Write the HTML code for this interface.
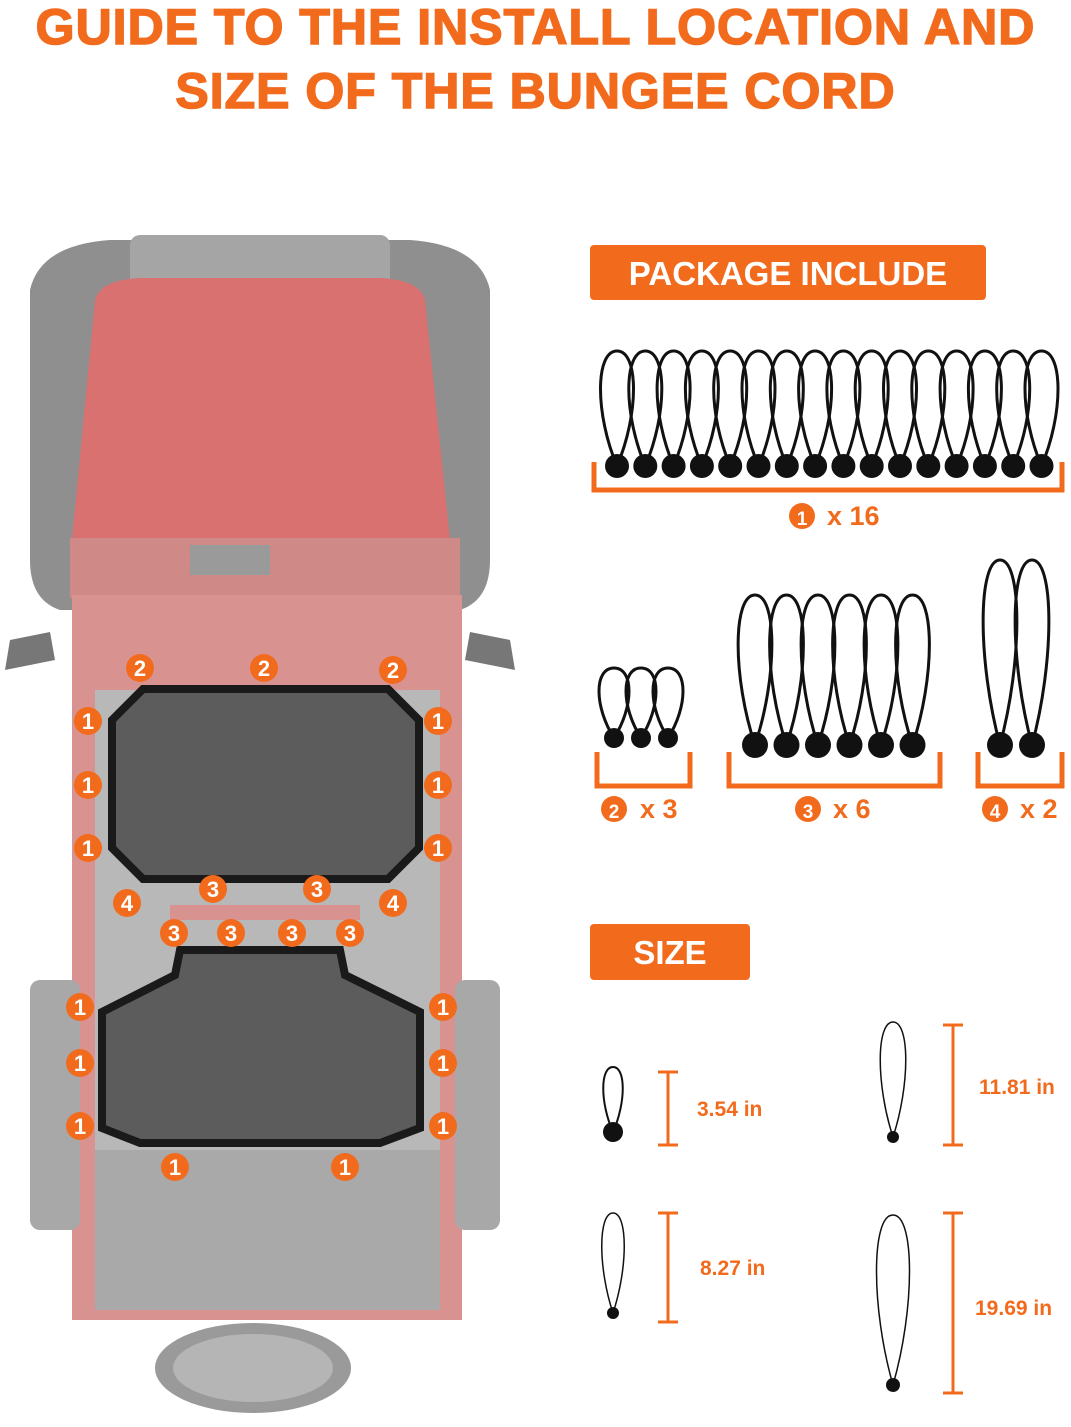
<!DOCTYPE html>
<html><head><meta charset="utf-8"><style>
html,body{margin:0;padding:0;background:#fff}
body{width:1071px;height:1427px;position:relative;overflow:hidden;font-family:"Liberation Sans",sans-serif}
.t{position:absolute;left:0;width:1071px;text-align:center;color:#f26b1d;font-weight:900;font-size:50px;letter-spacing:1px;-webkit-text-stroke:1.5px #f26b1d}
</style></head><body>
<div class="t" style="top:-2px">GUIDE TO THE INSTALL LOCATION AND</div>
<div class="t" style="top:62px">SIZE OF THE BUNGEE CORD</div>
<svg id="s" width="1071" height="1427" style="position:absolute;left:0;top:0" font-family="Liberation Sans, sans-serif">
<ellipse cx="253" cy="1368" rx="98" ry="45" fill="#9a9a9a"/>
<ellipse cx="253" cy="1368" rx="80" ry="34" fill="#b5b5b5"/>
<path d="M30 290 Q40 245 110 240 L150 240 L150 610 L60 610 Q30 600 30 560 Z" fill="#8f8f8f"/>
<path d="M490 290 Q480 245 410 240 L370 240 L370 610 L460 610 Q490 600 490 560 Z" fill="#8f8f8f"/>
<rect x="130" y="235" width="260" height="60" rx="10" fill="#a5a5a5"/>
<path d="M95 300 Q100 280 140 278 L380 278 Q420 280 425 300 L450 540 L72 540 Z" fill="#d8716f"/>
<rect x="70" y="538" width="390" height="60" fill="#cf8a88"/>
<rect x="190" y="545" width="80" height="30" fill="#9a9a9a"/>
<rect x="72" y="595" width="390" height="725" fill="#d89391"/>
<rect x="30" y="980" width="50" height="250" rx="10" fill="#a8a8a8"/>
<rect x="455" y="980" width="45" height="250" rx="10" fill="#a8a8a8"/>
<rect x="95" y="690" width="345" height="230" fill="#b8b8b8"/>
<rect x="95" y="920" width="345" height="380" fill="#b8b8b8"/>
<rect x="170" y="905" width="190" height="15" fill="#d89391"/>
<rect x="95" y="1150" width="345" height="160" fill="#a9a9a9"/>
<path d="M5 670 L10 640 L50 632 L55 660 Z" fill="#777"/>
<path d="M515 670 L510 640 L470 632 L465 660 Z" fill="#777"/>
<path d="M143 689 L388 689 L419 720 L419 848 L388 879 L143 879 L112 848 L112 720 Z" fill="#5c5c5c" stroke="#1a1a1a" stroke-width="8"/>
<path d="M180 950 L340 950 L345 975 L420 1012 L420 1128 L380 1143 L140 1143 L102 1128 L102 1012 L175 975 Z" fill="#5c5c5c" stroke="#1a1a1a" stroke-width="8"/>
<g id="num"></g>
<rect x="590" y="245" width="396" height="55" rx="4" fill="#f26b1d"/>
<text x="788" y="285" text-anchor="middle" fill="#fff" font-size="33" font-weight="bold">PACKAGE INCLUDE</text>
<rect x="590" y="924" width="160" height="56" rx="4" fill="#f26b1d"/>
<text x="670" y="964" text-anchor="middle" fill="#fff" font-size="33" font-weight="bold">SIZE</text>
<g fill="none" stroke="#f26b1d" stroke-width="5">
<path d="M594 462 V490 H1062 V462"/>
<path d="M597 752 V786 H690 V752"/>
<path d="M729 752 V786 H940 V752"/>
<path d="M978 752 V786 H1062 V752"/>
</g>
<g fill="#f26b1d" font-size="27" font-weight="bold">
<circle cx="802" cy="516" r="13"/><text x="802" y="525" fill="#fff" text-anchor="middle" font-size="19">1</text><text x="827" y="525">x 16</text>
<circle cx="614" cy="809" r="13"/><text x="614" y="818" fill="#fff" text-anchor="middle" font-size="19">2</text><text x="640" y="818">x 3</text>
<circle cx="808" cy="809" r="13"/><text x="808" y="818" fill="#fff" text-anchor="middle" font-size="19">3</text><text x="833" y="818">x 6</text>
<circle cx="995" cy="809" r="13"/><text x="995" y="818" fill="#fff" text-anchor="middle" font-size="19">4</text><text x="1020" y="818">x 2</text>
<text x="697" y="1116" font-size="21">3.54 in</text>
<text x="979" y="1094" font-size="21">11.81 in</text>
<text x="700" y="1275" font-size="21">8.27 in</text>
<text x="975" y="1315" font-size="21">19.69 in</text>
</g>
<g stroke="#f26b1d" stroke-width="3">
<path d="M668 1072 V1145 M658 1072 H678 M658 1145 H678"/>
<path d="M953 1025 V1145 M943 1025 H963 M943 1145 H963"/>
<path d="M668 1213 V1322 M658 1213 H678 M658 1322 H678"/>
<path d="M953 1213 V1393 M943 1213 H963 M943 1393 H963"/>
</g>
<g id="loops" fill="none" stroke="#111" stroke-width="3"></g>
</svg>
<script>
var L=document.getElementById('loops'),N=document.getElementById('num');
function loop(cx,by,h,w,r,sw){var t=by-h;
L.insertAdjacentHTML('beforeend','<path stroke-width="'+(sw||3)+'" d="M'+cx+' '+by+' C'+(cx-w/2)+' '+(by-h*0.45)+' '+(cx-w/2)+' '+t+' '+cx+' '+t+' C'+(cx+w/2)+' '+t+' '+(cx+w/2)+' '+(by-h*0.45)+' '+cx+' '+by+'"/><circle cx="'+cx+'" cy="'+by+'" r="'+r+'" fill="#111" stroke="none"/>');}
for(var i=0;i<16;i++)loop(617+i*28.3,466,115,44,12);
for(i=0;i<3;i++)loop(614+i*27,738,70,40,10);
for(i=0;i<6;i++)loop(755+i*31.5,745,150,45,13);
for(i=0;i<2;i++)loop(1000+i*32,745,185,45,13);
loop(613,1132,65,26,10,2);loop(893,1137,115,34,6,1.5);loop(613,1313,100,30,6,1.5);loop(893,1385,170,44,7,1.5);
var P=[[140,668,2],[264,668,2],[393,670,2],[88,721,1],[88,785,1],[88,848,1],[438,721,1],[438,785,1],[438,848,1],[213,889,3],[317,889,3],[127,903,4],[393,903,4],[174,933,3],[231,933,3],[292,933,3],[350,933,3],[80,1007,1],[80,1063,1],[80,1126,1],[443,1007,1],[443,1063,1],[443,1126,1],[175,1167,1],[345,1167,1]];
P.forEach(function(p){N.insertAdjacentHTML('beforeend','<circle cx="'+p[0]+'" cy="'+p[1]+'" r="14" fill="#f26b1d"/><text x="'+p[0]+'" y="'+(p[1]+8)+'" text-anchor="middle" fill="#fff" font-size="22" font-weight="bold">'+p[2]+'</text>');});
</script>
</body></html>
